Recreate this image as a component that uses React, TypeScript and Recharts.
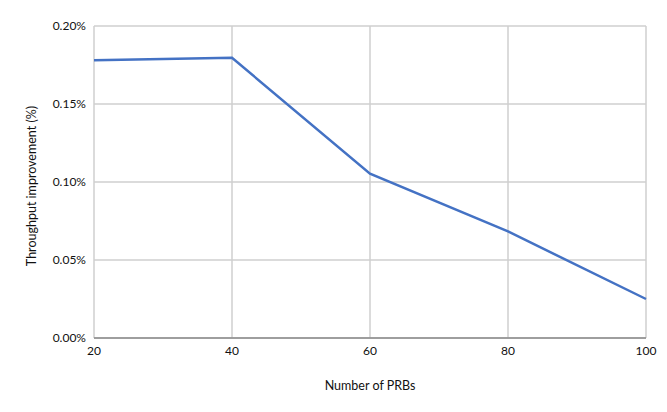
import { LineChart, Line, XAxis, YAxis, CartesianGrid, Label } from 'recharts'

const prbs = [20, 40, 60, 80, 100]
const improvement = [0.178, 0.1796, 0.1053, 0.0683, 0.025]
const yTicks = [0, 0.05, 0.1, 0.15, 0.2]

const data = prbs.map((p, i) => ({ prb: p, value: improvement[i] }))

const font = 'Lato, "Open Sans", sans-serif'
const tickStyle = { fill: '#111', fontSize: 12, fontFamily: font }

const YTitle = ({ viewBox }: any) => {
  const cx = 31
  const cy = viewBox.y + viewBox.height / 2 + 4
  return (
    <text
      x={cx}
      y={cy}
      transform={`rotate(-90 ${cx} ${cy})`}
      textAnchor="middle"
      dominantBaseline="central"
      fill="#111"
      fontSize={12.5}
      fontFamily={font}
    >
      Throughput improvement (%)
    </text>
  )
}

export default function App() {
  return (
    <div style={{ position: 'absolute', left: 0, top: 0, background: '#fff' }}>
      <LineChart
        width={667}
        height={412}
        data={data}
        margin={{ top: 26, right: 21, bottom: 0, left: 0 }}
      >
        <CartesianGrid stroke="#cfcfcf" strokeWidth={1.5} />
        <XAxis
          dataKey="prb"
          type="number"
          domain={[20, 100]}
          ticks={prbs}
          height={74}
          tick={tickStyle}
          tickLine={false}
          axisLine={{ stroke: '#8a8a8a', strokeWidth: 1.5 }}
        >
          <Label
            value="Number of PRBs"
            position="insideBottom"
            offset={22}
            fill="#111"
            fontSize={12.5}
            fontFamily={font}
          />
        </XAxis>
        <YAxis
          width={94}
          domain={[0, 0.2]}
          ticks={yTicks}
          tickFormatter={(v: number) => `${v.toFixed(2)}%`}
          tick={tickStyle}
          tickLine={false}
          axisLine={false}
        >
          <Label content={YTitle} />
        </YAxis>
        <Line
          type="linear"
          dataKey="value"
          stroke="#4472c4"
          strokeWidth={2.5}
          dot={false}
          isAnimationActive={false}
        />
      </LineChart>
    </div>
  )
}
